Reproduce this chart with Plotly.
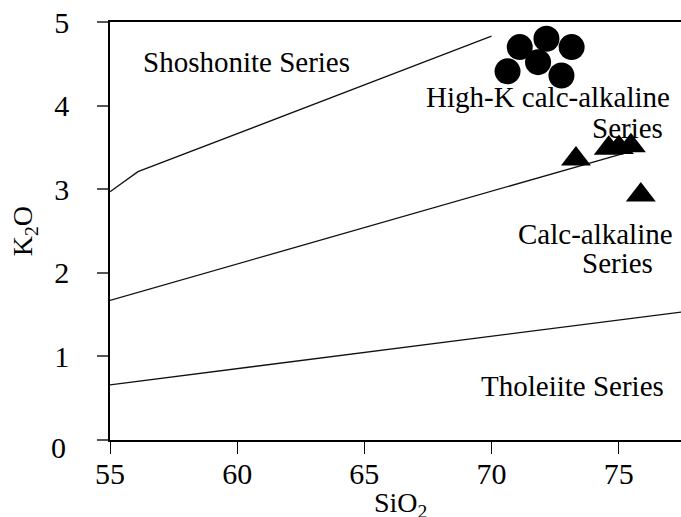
import plotly.graph_objects as go

# Sample analyses (wt%)
circle_sio2 = [71.11, 72.16, 73.15, 71.83, 70.63, 72.75]
circle_k2o = [4.70, 4.80, 4.70, 4.52, 4.41, 4.36]

triangle_sio2 = [73.32, 74.61, 75.01, 75.48, 75.87]
triangle_k2o = [3.36, 3.49, 3.50, 3.52, 2.93]

# Series boundaries (Peccerillo & Taylor style)
shoshonite_sio2 = [55.0, 56.1, 70.0]
shoshonite_k2o = [2.97, 3.21, 4.83]
highk_sio2 = [55.0, 75.1]
highk_k2o = [1.67, 3.42]
tholeiite_sio2 = [55.0, 77.45]
tholeiite_k2o = [0.66, 1.53]

x_ticks = [55, 60, 65, 70, 75]
y_ticks = [0, 1, 2, 3, 4, 5]

FONT = "Liberation Serif"
line_style = dict(color="#111111", width=1.3)

fig = go.Figure()
for xs, ys in [(shoshonite_sio2, shoshonite_k2o),
               (highk_sio2, highk_k2o),
               (tholeiite_sio2, tholeiite_k2o)]:
    fig.add_trace(go.Scatter(x=xs, y=ys, mode="lines", line=line_style,
                             hoverinfo="skip", showlegend=False))

fig.add_trace(go.Scatter(x=circle_sio2, y=circle_k2o, mode="markers",
                         marker=dict(symbol="circle", size=26, color="black",
                                     line=dict(width=0)),
                         cliponaxis=False, showlegend=False))
fig.add_trace(go.Scatter(x=triangle_sio2, y=triangle_k2o, mode="markers",
                         marker=dict(symbol="triangle-up", size=26, color="black",
                                     line=dict(width=0)),
                         cliponaxis=False, showlegend=False))

labels = [
    ("Shoshonite Series", 60.37, 4.52),
    ("High-K calc-alkaline", 72.21, 4.10),
    ("Series", 75.36, 3.73),
    ("Calc-alkaline", 74.10, 2.46),
    ("Series", 74.97, 2.12),
    ("Tholeiite Series", 73.20, 0.65),
]
for text, x, y in labels:
    fig.add_annotation(x=x, y=y, text=text, showarrow=False,
                       xanchor="center", yanchor="middle",
                       font=dict(family=FONT, size=29, color="black"))

# Axis titles
fig.add_annotation(xref="paper", yref="paper", x=0.508, y=-0.108,
                   xanchor="center", yanchor="top", showarrow=False,
                   text="SiO<sub>2</sub>", font=dict(family=FONT, size=28))
fig.add_annotation(xref="paper", yref="paper", x=-0.15, y=0.5,
                   xanchor="center", yanchor="middle", showarrow=False,
                   textangle=-90,
                   text="K<sub>2</sub>O", font=dict(family=FONT, size=28))
# Zero label of the K2O axis sits slightly below its tick
fig.add_annotation(xref="paper", yref="paper", x=-0.0735, y=-0.018,
                   xanchor="right", yanchor="middle", showarrow=False,
                   text=str(y_ticks[0]), font=dict(family=FONT, size=30))

fig.update_layout(
    width=681, height=517,
    margin=dict(l=110, r=0, t=22, b=77),
    paper_bgcolor="white", plot_bgcolor="white",
    font=dict(family=FONT, color="black"),
)
fig.update_xaxes(
    range=[55, 77.45], tickvals=x_ticks, ticktext=[str(v) for v in x_ticks],
    showgrid=False, zeroline=False,
    showline=True, linecolor="black", linewidth=1.5, mirror=True,
    ticks="outside", ticklen=12, tickwidth=1.2, tickcolor="black",
    tickfont=dict(family=FONT, size=30), ticklabelstandoff=-6,
)
fig.update_yaxes(
    range=[0, 5], tickvals=y_ticks,
    ticktext=[""] + [str(v) for v in y_ticks[1:]],
    showgrid=False, zeroline=False,
    showline=True, linecolor="black", linewidth=1.5,
    ticks="outside", ticklen=11, tickwidth=1.5, tickcolor="#555555",
    tickfont=dict(family=FONT, size=30), ticklabelstandoff=22,
)

fig.write_html("out.html")
